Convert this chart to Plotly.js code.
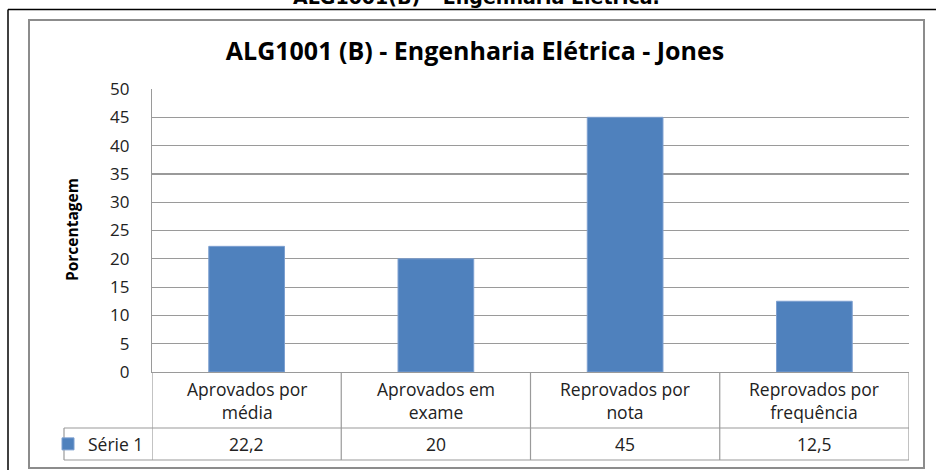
<!DOCTYPE html>
<html>
<head>
<meta charset="utf-8">
<script src="https://cdn.plot.ly/plotly-3.0.1.min.js"></script>
<style>html,body{margin:0;padding:0;background:#fff;}#chart{width:936px;height:470px;}</style>
</head>
<body>
<div id="chart"></div>
<script>
// ---- data ----
const categories = ["Aprovados por média", "Aprovados em exame", "Reprovados por nota", "Reprovados por frequência"];
const categoryLabels = ["Aprovados por<br>média", "Aprovados em<br>exame", "Reprovados por<br>nota", "Reprovados por<br>frequência"];
const values = [22.2, 20, 45, 12.5];
const valueLabels = ["22,2", "20", "45", "12,5"];
const seriesName = "Série 1";
const chartTitle = "ALG1001 (B) - Engenharia Elétrica - Jones";
const pageTitle = "ALG1001(B) – Engenharia Elétrica.";
const yTitle = "Porcentagem";

// ---- layout helpers (pixel -> paper) ----
const W = 936, H = 470;
const px = v => v / W;
const py = v => 1 - v / H;

const plotL = 152, plotR = 909, plotT = 89, plotB = 372;
const rowSep = 428, rowBot = 460, legL = 64;
const gridCol = "#9a9a9a";
const txtFont = "Open Sans, Noto Sans, sans-serif";

const shapes = [];
// outer black frame (left + top)
shapes.push({type:"line", xref:"paper", yref:"paper", x0:px(8), x1:px(8), y0:py(9.5), y1:py(470), line:{color:"#000", width:1.5}});
shapes.push({type:"line", xref:"paper", yref:"paper", x0:px(8), x1:1, y0:py(9.5), y1:py(9.5), line:{color:"#000", width:1.5}});
// chart area gray border
shapes.push({type:"rect", xref:"paper", yref:"paper", x0:px(29), x1:px(924), y0:py(20), y1:py(468), line:{color:"#8c8c8c", width:2}});
// data table lines
const boundaries = [-0.5, 0.5, 1.5, 2.5, 3.5];
boundaries.forEach(b => {
  shapes.push({type:"line", xref:"x", yref:"paper", x0:b, x1:b, y0:py(plotB), y1:py(rowBot), line:{color:gridCol, width:1.2}});
});
shapes.push({type:"line", xref:"paper", yref:"paper", x0:px(legL), x1:px(plotR), y0:py(rowSep), y1:py(rowSep), line:{color:gridCol, width:1.2}});
shapes.push({type:"line", xref:"paper", yref:"paper", x0:px(legL), x1:px(plotR), y0:py(rowBot), y1:py(rowBot), line:{color:gridCol, width:1.2}});
shapes.push({type:"line", xref:"paper", yref:"paper", x0:px(legL), x1:px(legL), y0:py(rowSep), y1:py(rowBot), line:{color:gridCol, width:1.2}});

const annotations = [];
categories.forEach((c, i) => {
  annotations.push({x:c, xref:"x", yref:"paper", y:py(400), yanchor:"middle", xanchor:"center",
    text:categoryLabels[i], showarrow:false, font:{family:txtFont, size:17.5, color:"#222"}});
  annotations.push({x:c, xref:"x", yref:"paper", y:py(444), yanchor:"middle", xanchor:"center",
    text:valueLabels[i], showarrow:false, font:{family:txtFont, size:17.5, color:"#222"}});
});
// page heading (clipped at top, as in the reference)
annotations.push({x:px(476), y:py(10), xref:"paper", yref:"paper", xanchor:"center", yanchor:"bottom",
  text:"<b>" + pageTitle + "</b>", showarrow:false, font:{family:"DejaVu Sans", size:19, color:"#000"}});
// y axis title
annotations.push({x:px(72), y:py(230), xref:"paper", yref:"paper", xanchor:"center", yanchor:"middle", textangle:-90,
  text:"<b>" + yTitle + "</b>", showarrow:false, font:{family:txtFont, size:15.5, color:"#000"}});

const trace = {
  type:"bar", x:categories, y:values, name:seriesName,
  marker:{color:"#4F81BD", line:{color:"#7c9fd0", width:1}},
  showlegend:true, hoverinfo:"skip"
};

const layout = {
  width:W, height:H,
  margin:{l:0, r:0, t:0, b:0, pad:0},
  paper_bgcolor:"#fff", plot_bgcolor:"#fff",
  title:{text:"<b>" + chartTitle + "</b>", x:px(475), xanchor:"center", y:py(51), yanchor:"middle",
    font:{family:txtFont, size:25, color:"#000"}},
  bargap:0.6,
  xaxis:{domain:[px(plotL), px(plotR)], type:"category", range:[-0.5, 3.5], showticklabels:false,
    showgrid:false, zeroline:false, showline:true, linecolor:gridCol, linewidth:1.2, ticks:""},
  yaxis:{domain:[py(plotB), py(plotT)], range:[0, 50], dtick:5, tick0:0, showgrid:true, gridcolor:gridCol, gridwidth:1.2,
    zeroline:false, showline:true, linecolor:gridCol, linewidth:1.2, ticks:"", ticklabelstandoff:18,
    tickfont:{family:txtFont, size:17, color:"#222"}},
  legend:{x:px(48), xanchor:"left", y:py(444), yanchor:"middle", bgcolor:"rgba(0,0,0,0)",
    font:{family:txtFont, size:17.5, color:"#222"}, itemclick:false},
  shapes:shapes, annotations:annotations
};

Plotly.newPlot("chart", [trace], layout, {staticPlot:true, displayModeBar:false});
</script>
</body>
</html>
